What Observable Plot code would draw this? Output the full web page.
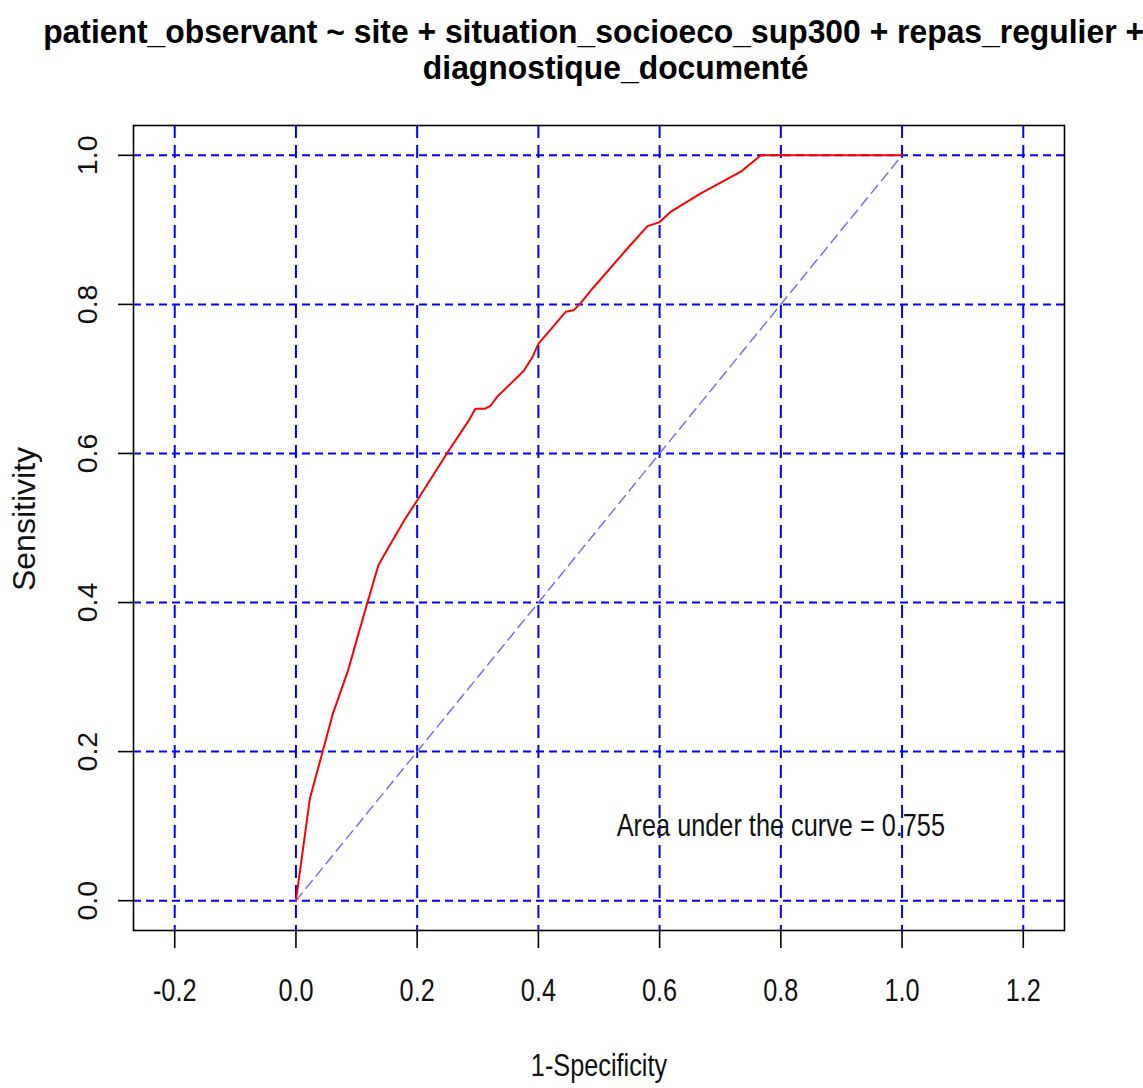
<!DOCTYPE html>
<html><head><meta charset="utf-8">
<script src="https://cdn.jsdelivr.net/npm/d3@7"></script>
<script src="https://cdn.jsdelivr.net/npm/@observablehq/plot@0.6"></script>
<style>
body{margin:0;background:#fff;overflow:hidden;width:1143px;height:1088px;position:relative}
#chart{position:absolute;top:0;left:0}
#title{position:absolute;top:14px;left:598px;transform:translateX(-50%) scaleX(0.965);transform-origin:center;font-family:"Liberation Sans",Arial,sans-serif;font-weight:bold;font-size:33px;line-height:36px;text-align:center;white-space:pre;color:#000}
</style></head><body>
<div id="chart"></div>
<div id="title">patient_observant ~ site + situation_socioeco_sup300 + repas_regulier + 
    diagnostique_documenté</div>
<script>
// ROC curve (1-Specificity vs Sensitivity)
const fpr = [0, 0.023, 0.061, 0.086, 0.114, 0.136, 0.150, 0.180, 0.200, 0.249, 0.285, 0.296, 0.312, 0.321, 0.332, 0.351, 0.376, 0.390, 0.400, 0.445, 0.458, 0.469, 0.489, 0.549, 0.580, 0.599, 0.618, 0.668, 0.734, 0.767, 1.0];
const tpr = [0, 0.137, 0.251, 0.309, 0.389, 0.450, 0.470, 0.512, 0.537, 0.600, 0.644, 0.660, 0.660, 0.664, 0.676, 0.691, 0.711, 0.729, 0.747, 0.790, 0.792, 0.801, 0.821, 0.877, 0.905, 0.910, 0.924, 0.949, 0.978, 1.0, 1.0];
const diagX = [0, 1];
const diagY = [0, 1];
const xTicks = [-0.2, 0, 0.2, 0.4, 0.6, 0.8, 1.0, 1.2];
const yTicks = [0, 0.2, 0.4, 0.6, 0.8, 1.0];
const xLabel = "1-Specificity";
const yLabel = "Sensitivity";
const aucText = "Area under the curve = 0.755";
const aucPos = {x: 0.8, y: 0.1};

const curve = fpr.map((f, i) => ({fpr: f, tpr: tpr[i]}));
const diag = diagX.map((d, i) => ({x: d, y: diagY[i]}));
const font = '"Liberation Sans", Arial, sans-serif';

const chart = Plot.plot({
  width: 1143, height: 1088,
  marginLeft: 133, marginRight: 79, marginTop: 125, marginBottom: 158,
  x: {domain: [-0.268, 1.268]},
  y: {domain: [-0.04, 1.04]},
  style: {background: "#fff", overflow: "visible", color: "#000"},
  marks: [
    Plot.ruleX(xTicks, {x: d => d, stroke: "#0000ff", strokeWidth: 2, strokeDasharray: "13,7"}),
    Plot.ruleY(yTicks, {y: d => d, stroke: "#0000ff", strokeWidth: 2, strokeDasharray: "8,5"}),
    Plot.line(diag, {x: "x", y: "y", stroke: "#7272ff", strokeWidth: 1.5, strokeDasharray: "10,6"}),
    Plot.line(curve, {x: "fpr", y: "tpr", stroke: "#ff0000", strokeWidth: 2}),
    Plot.frame({stroke: "#000", strokeWidth: 1.6}),
    Plot.axisX({ticks: xTicks, tickSize: 18, tickFormat: () => "", label: null, strokeWidth: 1.6}),
    Plot.axisY({ticks: yTicks, tickSize: 15, tickFormat: () => "", label: null, strokeWidth: 1.6}),
    Plot.text(xTicks, {x: d => d, text: d => d.toFixed(1), frameAnchor: "bottom", dy: 70, lineAnchor: "bottom", textAnchor: "middle", fontSize: 32, fontFamily: font, fill: "#111"}),
    Plot.text(yTicks, {y: d => d, text: d => d.toFixed(1), frameAnchor: "left", dx: -46, rotate: -90, lineAnchor: "middle", textAnchor: "middle", fontSize: 28.5, fontFamily: font, fill: "#111"}),
    Plot.text([xLabel], {text: d => d, frameAnchor: "bottom", dy: 145, lineAnchor: "bottom", textAnchor: "middle", fontSize: 32, fontFamily: font, fill: "#111"}),
    Plot.text([yLabel], {text: d => d, frameAnchor: "left", dx: -109, dy: -9, rotate: -90, lineAnchor: "middle", textAnchor: "middle", fontSize: 32, fontFamily: font, fill: "#111"}),
    Plot.text([aucText], {x: () => aucPos.x, y: () => aucPos.y, text: d => d, lineAnchor: "middle", textAnchor: "middle", fontSize: 32, fontFamily: font, fill: "#111"})
  ]
});
document.getElementById("chart").appendChild(chart);
// narrow the horizontal (non-rotated) texts to match the condensed look of the original
chart.querySelectorAll("text").forEach(t => {
  const tr = (t.getAttribute("transform") || "") + (t.parentNode.getAttribute("transform") || "");
  if (!t.textContent.trim() || tr.includes("rotate")) return;
  const len = t.getComputedTextLength();
  if (len > 0) {
    t.setAttribute("textLength", (len * 0.79).toFixed(1));
    t.setAttribute("lengthAdjust", "spacingAndGlyphs");
  }
});
</script>
</body></html>
